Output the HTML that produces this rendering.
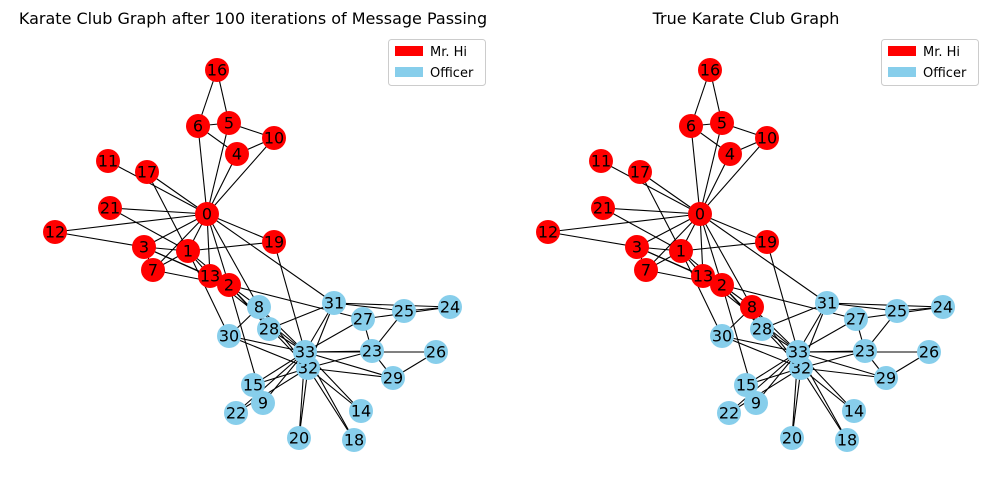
<!DOCTYPE html>
<html><head><meta charset="utf-8"><style>
html,body{margin:0;padding:0;background:#fff;}
svg{display:block;font-family:"DejaVu Sans","Liberation Sans",sans-serif;}
.e line{stroke:#000;stroke-width:1.1;}
.n text{font-size:16px;text-anchor:middle;dominant-baseline:central;fill:#000;}
.r{fill:#ff0000;} .b{fill:#87ceeb;}
</style></head><body>
<svg width="994" height="490" viewBox="0 0 994 490" xmlns="http://www.w3.org/2000/svg">
<defs>
<g id="edges" class="e">
<line x1="207" y1="214" x2="188" y2="251"/><line x1="207" y1="214" x2="229" y2="285"/><line x1="207" y1="214" x2="144" y2="247"/><line x1="207" y1="214" x2="237" y2="154"/><line x1="207" y1="214" x2="229" y2="123"/><line x1="207" y1="214" x2="198" y2="126"/><line x1="207" y1="214" x2="153" y2="270"/><line x1="207" y1="214" x2="259" y2="307"/><line x1="207" y1="214" x2="274" y2="138"/><line x1="207" y1="214" x2="108" y2="161"/><line x1="207" y1="214" x2="55" y2="232"/><line x1="207" y1="214" x2="210" y2="276"/><line x1="207" y1="214" x2="147" y2="172"/><line x1="207" y1="214" x2="274" y2="242"/><line x1="207" y1="214" x2="110" y2="208"/><line x1="207" y1="214" x2="334" y2="303"/>
<line x1="188" y1="251" x2="229" y2="285"/><line x1="188" y1="251" x2="144" y2="247"/><line x1="188" y1="251" x2="153" y2="270"/><line x1="188" y1="251" x2="210" y2="276"/><line x1="188" y1="251" x2="147" y2="172"/><line x1="188" y1="251" x2="274" y2="242"/><line x1="188" y1="251" x2="110" y2="208"/><line x1="188" y1="251" x2="229" y2="336"/>
<line x1="229" y1="285" x2="144" y2="247"/><line x1="229" y1="285" x2="153" y2="270"/><line x1="229" y1="285" x2="259" y2="307"/><line x1="229" y1="285" x2="263" y2="403"/><line x1="229" y1="285" x2="210" y2="276"/><line x1="229" y1="285" x2="363" y2="319"/><line x1="229" y1="285" x2="269" y2="329"/><line x1="229" y1="285" x2="308" y2="368"/>
<line x1="144" y1="247" x2="153" y2="270"/><line x1="144" y1="247" x2="55" y2="232"/><line x1="144" y1="247" x2="210" y2="276"/>
<line x1="237" y1="154" x2="198" y2="126"/><line x1="237" y1="154" x2="274" y2="138"/><line x1="229" y1="123" x2="198" y2="126"/><line x1="229" y1="123" x2="274" y2="138"/><line x1="229" y1="123" x2="217" y2="70"/><line x1="198" y1="126" x2="217" y2="70"/>
<line x1="259" y1="307" x2="229" y2="336"/><line x1="259" y1="307" x2="308" y2="368"/><line x1="259" y1="307" x2="305" y2="352"/>
<line x1="263" y1="403" x2="305" y2="352"/><line x1="210" y1="276" x2="305" y2="352"/>
<line x1="361" y1="411" x2="308" y2="368"/><line x1="361" y1="411" x2="305" y2="352"/><line x1="253" y1="385" x2="308" y2="368"/><line x1="253" y1="385" x2="305" y2="352"/><line x1="354" y1="440" x2="308" y2="368"/><line x1="354" y1="440" x2="305" y2="352"/><line x1="274" y1="242" x2="305" y2="352"/><line x1="299" y1="438" x2="308" y2="368"/><line x1="299" y1="438" x2="305" y2="352"/><line x1="236" y1="413" x2="308" y2="368"/><line x1="236" y1="413" x2="305" y2="352"/>
<line x1="372" y1="351" x2="404" y2="311"/><line x1="372" y1="351" x2="363" y2="319"/><line x1="372" y1="351" x2="393" y2="378"/><line x1="372" y1="351" x2="308" y2="368"/><line x1="372" y1="351" x2="305" y2="352"/>
<line x1="450" y1="307" x2="404" y2="311"/><line x1="450" y1="307" x2="363" y2="319"/><line x1="450" y1="307" x2="334" y2="303"/><line x1="404" y1="311" x2="334" y2="303"/>
<line x1="436" y1="352" x2="393" y2="378"/><line x1="436" y1="352" x2="305" y2="352"/><line x1="363" y1="319" x2="305" y2="352"/>
<line x1="269" y1="329" x2="334" y2="303"/><line x1="269" y1="329" x2="305" y2="352"/><line x1="393" y1="378" x2="308" y2="368"/><line x1="393" y1="378" x2="305" y2="352"/>
<line x1="229" y1="336" x2="308" y2="368"/><line x1="229" y1="336" x2="305" y2="352"/><line x1="334" y1="303" x2="308" y2="368"/><line x1="334" y1="303" x2="305" y2="352"/><line x1="308" y1="368" x2="305" y2="352"/>
</g>
</defs>

<text x="253" y="24" font-size="16" text-anchor="middle">Karate Club Graph after 100 iterations of Message Passing</text>
<text x="746" y="24" font-size="16" text-anchor="middle">True Karate Club Graph</text>

<use href="#edges"/>
<use href="#edges" x="493"/>

<g class="n">
<circle class="r" cx="207" cy="214" r="12"/><text x="207" y="214">0</text>
<circle class="r" cx="188" cy="251" r="12"/><text x="188" y="251">1</text>
<circle class="r" cx="229" cy="285" r="12"/><text x="229" y="285">2</text>
<circle class="r" cx="144" cy="247" r="12"/><text x="144" y="247">3</text>
<circle class="r" cx="237" cy="154" r="12"/><text x="237" y="154">4</text>
<circle class="r" cx="229" cy="123" r="12"/><text x="229" y="123">5</text>
<circle class="r" cx="198" cy="126" r="12"/><text x="198" y="126">6</text>
<circle class="r" cx="153" cy="270" r="12"/><text x="153" y="270">7</text>
<circle class="b" cx="259" cy="307" r="12"/><text x="259" y="307">8</text>
<circle class="b" cx="263" cy="403" r="12"/><text x="263" y="403">9</text>
<circle class="r" cx="274" cy="138" r="12"/><text x="274" y="138">10</text>
<circle class="r" cx="108" cy="161" r="12"/><text x="108" y="161">11</text>
<circle class="r" cx="55" cy="232" r="12"/><text x="55" y="232">12</text>
<circle class="r" cx="210" cy="276" r="12"/><text x="210" y="276">13</text>
<circle class="b" cx="361" cy="411" r="12"/><text x="361" y="411">14</text>
<circle class="b" cx="253" cy="385" r="12"/><text x="253" y="385">15</text>
<circle class="r" cx="217" cy="70" r="12"/><text x="217" y="70">16</text>
<circle class="r" cx="147" cy="172" r="12"/><text x="147" y="172">17</text>
<circle class="b" cx="354" cy="440" r="12"/><text x="354" y="440">18</text>
<circle class="r" cx="274" cy="242" r="12"/><text x="274" y="242">19</text>
<circle class="b" cx="299" cy="438" r="12"/><text x="299" y="438">20</text>
<circle class="r" cx="110" cy="208" r="12"/><text x="110" y="208">21</text>
<circle class="b" cx="236" cy="413" r="12"/><text x="236" y="413">22</text>
<circle class="b" cx="372" cy="351" r="12"/><text x="372" y="351">23</text>
<circle class="b" cx="450" cy="307" r="12"/><text x="450" y="307">24</text>
<circle class="b" cx="404" cy="311" r="12"/><text x="404" y="311">25</text>
<circle class="b" cx="436" cy="352" r="12"/><text x="436" y="352">26</text>
<circle class="b" cx="363" cy="319" r="12"/><text x="363" y="319">27</text>
<circle class="b" cx="269" cy="329" r="12"/><text x="269" y="329">28</text>
<circle class="b" cx="393" cy="378" r="12"/><text x="393" y="378">29</text>
<circle class="b" cx="229" cy="336" r="12"/><text x="229" y="336">30</text>
<circle class="b" cx="334" cy="303" r="12"/><text x="334" y="303">31</text>
<circle class="b" cx="308" cy="368" r="12"/><text x="308" y="368">32</text>
<circle class="b" cx="305" cy="352" r="12"/><text x="305" y="352">33</text>
</g>

<g class="n" transform="translate(493,0)">
<circle class="r" cx="207" cy="214" r="12"/><text x="207" y="214">0</text>
<circle class="r" cx="188" cy="251" r="12"/><text x="188" y="251">1</text>
<circle class="r" cx="229" cy="285" r="12"/><text x="229" y="285">2</text>
<circle class="r" cx="144" cy="247" r="12"/><text x="144" y="247">3</text>
<circle class="r" cx="237" cy="154" r="12"/><text x="237" y="154">4</text>
<circle class="r" cx="229" cy="123" r="12"/><text x="229" y="123">5</text>
<circle class="r" cx="198" cy="126" r="12"/><text x="198" y="126">6</text>
<circle class="r" cx="153" cy="270" r="12"/><text x="153" y="270">7</text>
<circle class="r" cx="259" cy="307" r="12"/><text x="259" y="307">8</text>
<circle class="b" cx="263" cy="403" r="12"/><text x="263" y="403">9</text>
<circle class="r" cx="274" cy="138" r="12"/><text x="274" y="138">10</text>
<circle class="r" cx="108" cy="161" r="12"/><text x="108" y="161">11</text>
<circle class="r" cx="55" cy="232" r="12"/><text x="55" y="232">12</text>
<circle class="r" cx="210" cy="276" r="12"/><text x="210" y="276">13</text>
<circle class="b" cx="361" cy="411" r="12"/><text x="361" y="411">14</text>
<circle class="b" cx="253" cy="385" r="12"/><text x="253" y="385">15</text>
<circle class="r" cx="217" cy="70" r="12"/><text x="217" y="70">16</text>
<circle class="r" cx="147" cy="172" r="12"/><text x="147" y="172">17</text>
<circle class="b" cx="354" cy="440" r="12"/><text x="354" y="440">18</text>
<circle class="r" cx="274" cy="242" r="12"/><text x="274" y="242">19</text>
<circle class="b" cx="299" cy="438" r="12"/><text x="299" y="438">20</text>
<circle class="r" cx="110" cy="208" r="12"/><text x="110" y="208">21</text>
<circle class="b" cx="236" cy="413" r="12"/><text x="236" y="413">22</text>
<circle class="b" cx="372" cy="351" r="12"/><text x="372" y="351">23</text>
<circle class="b" cx="450" cy="307" r="12"/><text x="450" y="307">24</text>
<circle class="b" cx="404" cy="311" r="12"/><text x="404" y="311">25</text>
<circle class="b" cx="436" cy="352" r="12"/><text x="436" y="352">26</text>
<circle class="b" cx="363" cy="319" r="12"/><text x="363" y="319">27</text>
<circle class="b" cx="269" cy="329" r="12"/><text x="269" y="329">28</text>
<circle class="b" cx="393" cy="378" r="12"/><text x="393" y="378">29</text>
<circle class="b" cx="229" cy="336" r="12"/><text x="229" y="336">30</text>
<circle class="b" cx="334" cy="303" r="12"/><text x="334" y="303">31</text>
<circle class="b" cx="308" cy="368" r="12"/><text x="308" y="368">32</text>
<circle class="b" cx="305" cy="352" r="12"/><text x="305" y="352">33</text>
</g>

<g font-size="13">
<rect x="388.5" y="39.5" width="97" height="46" rx="3" fill="#fff" stroke="#ccc"/>
<rect x="395" y="46" width="28" height="10" fill="#ff0000"/>
<text x="430" y="56">Mr. Hi</text>
<rect x="395" y="67" width="28" height="10" fill="#87ceeb"/>
<text x="430" y="77">Officer</text>
<rect x="881.5" y="39.5" width="97" height="46" rx="3" fill="#fff" stroke="#ccc"/>
<rect x="888" y="46" width="28" height="10" fill="#ff0000"/>
<text x="923" y="56">Mr. Hi</text>
<rect x="888" y="67" width="28" height="10" fill="#87ceeb"/>
<text x="923" y="77">Officer</text>
</g>
</svg>
</body></html>
